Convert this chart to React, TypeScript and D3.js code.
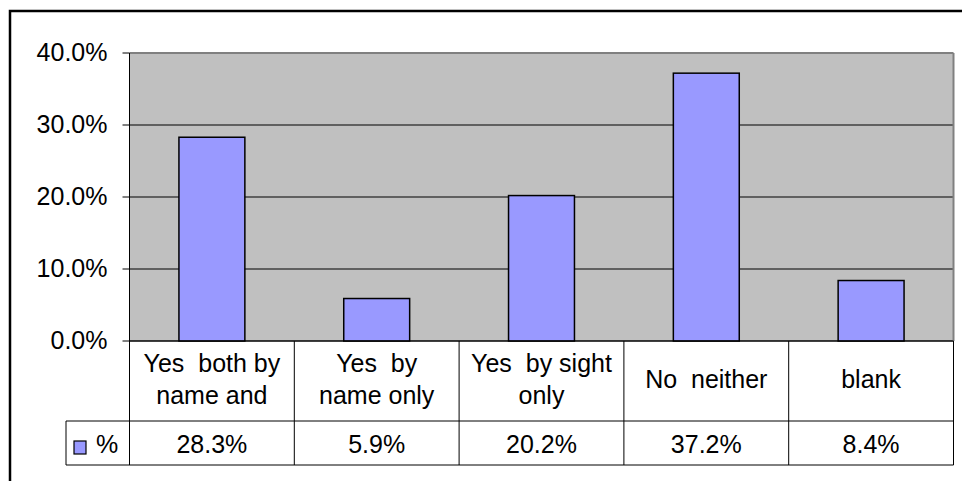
import React from "react";
import * as d3 from "d3";

const categories = ["Yes  both by name and", "Yes  by name only", "Yes  by sight only", "No  neither", "blank"];
const categoryLines = [["Yes  both by", "name and"], ["Yes  by", "name only"], ["Yes  by sight", "only"], ["No  neither"], ["blank"]];
const values = [28.3, 5.9, 20.2, 37.2, 8.4];
const yTicks = [0, 10, 20, 30, 40];
const seriesName = "%";

const W = 962;
const H = 481;
const plotL = 129.5;
const plotR = 953.5;
const plotT = 53;
const plotB = 341;
const row1B = 421;
const row2B = 465;
const legendL = 66;
const FONT = "Arial, 'Liberation Sans', sans-serif";
const FS = 25;

export default function App() {
  const x = d3.scaleBand<string>().domain(categories).range([plotL, plotR]).paddingInner(0.6).paddingOuter(0.3);
  const y = d3.scaleLinear().domain([0, 40]).range([plotB, plotT]);
  const step = x.step();
  const colStart = (i: number) => plotL + i * step;
  const fmt = (v: number) => d3.format(".1f")(v) + "%";

  return (
    <svg width={W} height={H} style={{ position: "absolute", left: 0, top: 0, background: "#fff" }} fontFamily={FONT}>
      <rect x={0} y={0} width={W} height={H} fill="#fff" />
      {/* outer chart border */}
      <rect x={10} y={11} width={W + 20} height={H + 20} fill="none" stroke="#000" strokeWidth={2.5} />
      {/* plot area */}
      <rect x={plotL} y={plotT} width={plotR - plotL} height={plotB - plotT} fill="#C0C0C0" />
      {yTicks.map((t) => (
        <g key={t}>
          <line x1={plotL} x2={plotR} y1={y(t)} y2={y(t)} stroke={t === 40 ? "#808080" : "#000"} strokeWidth={t === 40 ? 2 : 1} />
          <line x1={plotL - 7} x2={plotL} y1={y(t)} y2={y(t)} stroke="#000" strokeWidth={1} />
          <text x={107.5} y={y(t) + 8} fontSize={FS} textAnchor="end" fill="#000">
            {fmt(t)}
          </text>
        </g>
      ))}
      <line x1={plotR} x2={plotR} y1={plotT} y2={plotB} stroke="#808080" strokeWidth={2} />
      {/* bars */}
      {values.map((v, i) => (
        <rect
          key={i}
          x={x(categories[i])!}
          y={y(v)}
          width={x.bandwidth()}
          height={plotB - y(v)}
          fill="#9999FF"
          stroke="#000"
          strokeWidth={1.5}
        />
      ))}
      {/* y axis */}
      <line x1={plotL} x2={plotL} y1={plotT} y2={row2B} stroke="#000" strokeWidth={1} />
      <line x1={plotL} x2={plotR} y1={plotB} y2={plotB} stroke="#000" strokeWidth={1} />
      {/* data table */}
      <line x1={legendL} x2={plotR} y1={row1B} y2={row1B} stroke="#000" strokeWidth={1} />
      <line x1={legendL} x2={plotR} y1={row2B} y2={row2B} stroke="#000" strokeWidth={1} />
      <line x1={legendL} x2={legendL} y1={row1B} y2={row2B} stroke="#000" strokeWidth={1} />
      {categories.map((c, i) => (
        <line key={c} x1={colStart(i + 1)} x2={colStart(i + 1)} y1={plotB} y2={row2B} stroke="#000" strokeWidth={1} />
      ))}
      {categoryLines.map((lines, i) => {
        const cx = colStart(i) + step / 2;
        const mid = (plotB + row1B) / 2;
        const lh = 31.5;
        const first = mid + 7 - ((lines.length - 1) * lh) / 2;
        return (
          <text key={i} fontSize={FS} textAnchor="middle" fill="#000" style={{ whiteSpace: "pre" }}>
            {lines.map((l, j) => (
              <tspan key={j} x={cx} y={first + j * lh}>
                {l}
              </tspan>
            ))}
          </text>
        );
      })}
      {values.map((v, i) => (
        <text key={i} x={colStart(i) + step / 2} y={(row1B + row2B) / 2 + 9.5} fontSize={FS} textAnchor="middle" fill="#000">
          {fmt(v)}
        </text>
      ))}
      {/* legend key */}
      <rect x={74} y={441} width={12} height={13} fill="#9999FF" stroke="#000" strokeWidth={1.2} />
      <text x={96} y={452.5} fontSize={FS} fill="#000">
        {seriesName}
      </text>
    </svg>
  );
}
